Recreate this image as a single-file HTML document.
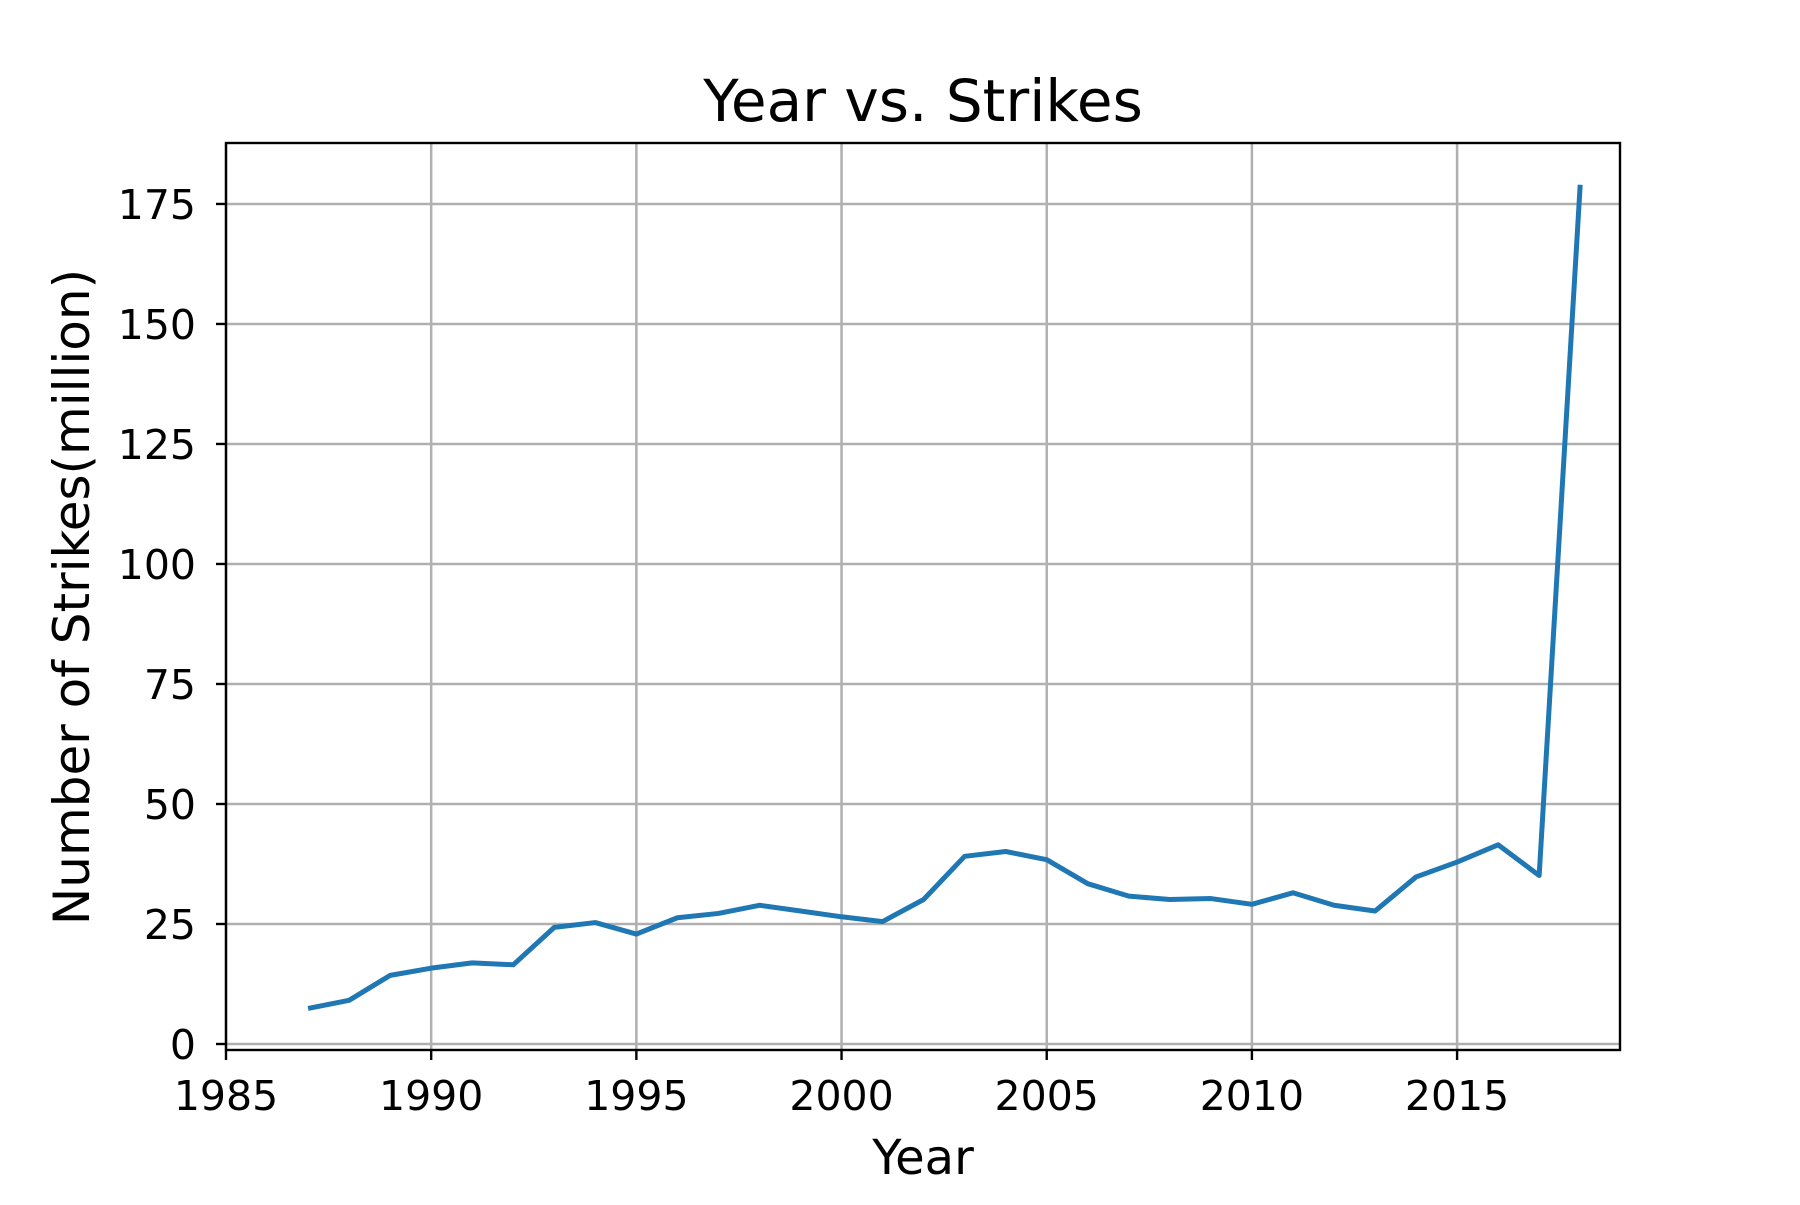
<!DOCTYPE html>
<html><head><meta charset="utf-8"><style>
body{margin:0;background:#fff}
svg text{font-family:"DejaVu Sans","Liberation Sans",sans-serif;fill:#000}
</style></head><body>
<svg id="chart" width="1800" height="1200" xmlns="http://www.w3.org/2000/svg">
<rect width="1800" height="1200" fill="#fff"/>
<g id="grid"></g><g id="ticks"></g>
<polyline id="line" fill="none" stroke="#1f77b4" stroke-width="5" stroke-linejoin="round"/>
<rect x="226" y="143" width="1394" height="907" fill="none" stroke="#000" stroke-width="2.4"/>
<text x="923" y="121" font-size="58" text-anchor="middle">Year vs. Strikes</text>
<text x="923" y="1174" font-size="48" text-anchor="middle">Year</text>
<text transform="translate(89,597) rotate(-90)" font-size="50" text-anchor="middle">Number of Strikes(million)</text>
</svg>
<script>
const years=[1987,1988,1989,1990,1991,1992,1993,1994,1995,1996,1997,1998,1999,2000,2001,2002,2003,2004,2005,2006,2007,2008,2009,2010,2011,2012,2013,2014,2015,2016,2017,2018];
const strikes=[7.4,9.1,14.3,15.8,16.9,16.5,24.3,25.3,22.9,26.3,27.2,28.9,27.7,26.5,25.5,30.1,39.1,40.1,38.4,33.4,30.8,30.1,30.3,29.1,31.5,28.9,27.7,34.8,37.9,41.5,35.1,179];
const xTicks=[1985,1990,1995,2000,2005,2010,2015];
const yTicks=[0,25,50,75,100,125,150,175];
const X0=226,X1=1620,Y0=1050,Y1=143,xMin=1985,xMax=2018.97,yMin=-1.25,yMax=187.7;
const sx=v=>X0+(v-xMin)/(xMax-xMin)*(X1-X0);
const sy=v=>Y0-(v-yMin)/(yMax-yMin)*(Y0-Y1);
const NS='http://www.w3.org/2000/svg';
const grid=document.getElementById('grid'),ticks=document.getElementById('ticks');
function mk(tag,attrs,parent){const e=document.createElementNS(NS,tag);for(const k in attrs)e.setAttribute(k,attrs[k]);parent.appendChild(e);return e;}
xTicks.forEach(t=>{const x=sx(t);
 const g=mk('line',{x1:x,x2:x,y1:Y1,y2:Y0,stroke:'#b0b0b0','stroke-width':2.5},grid);
 
 
 const tk=mk('line',{x1:x,x2:x,y1:Y0,y2:Y0+10,stroke:'#000','stroke-width':2.4},ticks);
 
 
 const tx=mk('text',{x:x,y:Y0+60,'font-size':41,'text-anchor':'middle'},ticks);tx.textContent=t;
 
 
});
yTicks.forEach(t=>{const y=sy(t);
 const g=mk('line',{x1:X0,x2:X1,y1:y,y2:y,stroke:'#b0b0b0','stroke-width':2.5},grid);
 
 
 const tk=mk('line',{x1:X0-10,x2:X0,y1:y,y2:y,stroke:'#000','stroke-width':2.4},ticks);
 
 
 const tx=mk('text',{x:X0-30,y:y+15,'font-size':41,'text-anchor':'end'},ticks);tx.textContent=t;
 
 
});
document.getElementById('line').setAttribute('points',years.map((y,i)=>sx(y)+','+sy(strikes[i])).join(' '));
</script>
</body></html>
